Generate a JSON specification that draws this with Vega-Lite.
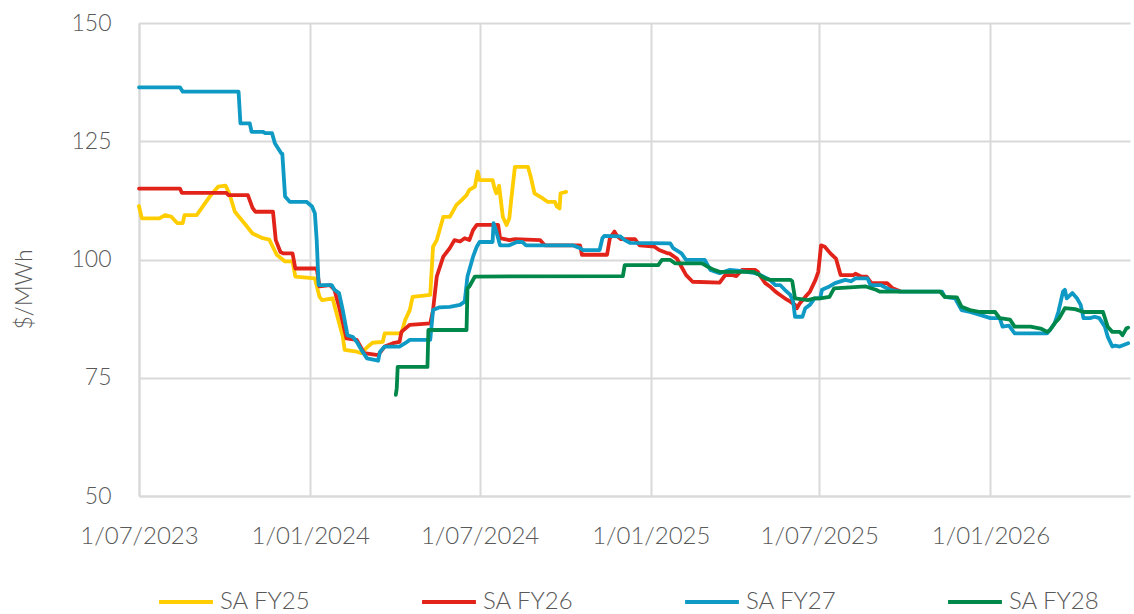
{
  "$schema": "https://vega.github.io/schema/vega-lite/v6.json",
  "width": 991,
  "height": 473,
  "autosize": {"type": "none"},
  "padding": {"left": 139, "top": 23, "right": 4, "bottom": 118},
  "background": "white",
  "config": {"view": {"stroke": null}, "font": "Lato"},
  "data": {"values": [
    {"s":"SA FY25","d":"2023-07-01","v":111.3},
    {"s":"SA FY25","d":"2023-07-04","v":108.7},
    {"s":"SA FY25","d":"2023-07-23","v":108.7},
    {"s":"SA FY25","d":"2023-07-29","v":109.4},
    {"s":"SA FY25","d":"2023-08-05","v":109.0},
    {"s":"SA FY25","d":"2023-08-11","v":107.7},
    {"s":"SA FY25","d":"2023-08-17","v":107.7},
    {"s":"SA FY25","d":"2023-08-19","v":109.4},
    {"s":"SA FY25","d":"2023-09-01","v":109.4},
    {"s":"SA FY25","d":"2023-09-15","v":113.3},
    {"s":"SA FY25","d":"2023-09-24","v":115.4},
    {"s":"SA FY25","d":"2023-10-02","v":115.6},
    {"s":"SA FY25","d":"2023-10-06","v":114.0},
    {"s":"SA FY25","d":"2023-10-12","v":110.1},
    {"s":"SA FY25","d":"2023-10-22","v":107.7},
    {"s":"SA FY25","d":"2023-10-31","v":105.5},
    {"s":"SA FY25","d":"2023-11-11","v":104.5},
    {"s":"SA FY25","d":"2023-11-18","v":104.2},
    {"s":"SA FY25","d":"2023-11-26","v":101.0},
    {"s":"SA FY25","d":"2023-12-05","v":99.6},
    {"s":"SA FY25","d":"2023-12-13","v":99.6},
    {"s":"SA FY25","d":"2023-12-16","v":96.4},
    {"s":"SA FY25","d":"2024-01-06","v":96.0},
    {"s":"SA FY25","d":"2024-01-11","v":92.1},
    {"s":"SA FY25","d":"2024-01-14","v":91.4},
    {"s":"SA FY25","d":"2024-01-25","v":91.8},
    {"s":"SA FY25","d":"2024-02-05","v":83.7},
    {"s":"SA FY25","d":"2024-02-07","v":80.9},
    {"s":"SA FY25","d":"2024-02-20","v":80.5},
    {"s":"SA FY25","d":"2024-02-25","v":80.2},
    {"s":"SA FY25","d":"2024-03-03","v":81.6},
    {"s":"SA FY25","d":"2024-03-08","v":82.4},
    {"s":"SA FY25","d":"2024-03-19","v":82.6},
    {"s":"SA FY25","d":"2024-03-21","v":84.4},
    {"s":"SA FY25","d":"2024-04-08","v":84.4},
    {"s":"SA FY25","d":"2024-04-12","v":87.2},
    {"s":"SA FY25","d":"2024-04-17","v":89.3},
    {"s":"SA FY25","d":"2024-04-20","v":92.1},
    {"s":"SA FY25","d":"2024-05-09","v":92.5},
    {"s":"SA FY25","d":"2024-05-12","v":102.7},
    {"s":"SA FY25","d":"2024-05-16","v":104.1},
    {"s":"SA FY25","d":"2024-05-19","v":106.2},
    {"s":"SA FY25","d":"2024-05-23","v":109.0},
    {"s":"SA FY25","d":"2024-05-30","v":109.0},
    {"s":"SA FY25","d":"2024-06-06","v":111.5},
    {"s":"SA FY25","d":"2024-06-12","v":112.6},
    {"s":"SA FY25","d":"2024-06-17","v":113.6},
    {"s":"SA FY25","d":"2024-06-20","v":114.7},
    {"s":"SA FY25","d":"2024-06-26","v":115.4},
    {"s":"SA FY25","d":"2024-06-29","v":118.6},
    {"s":"SA FY25","d":"2024-07-01","v":116.8},
    {"s":"SA FY25","d":"2024-07-15","v":116.8},
    {"s":"SA FY25","d":"2024-07-17","v":115.1},
    {"s":"SA FY25","d":"2024-07-19","v":114.0},
    {"s":"SA FY25","d":"2024-07-22","v":115.6},
    {"s":"SA FY25","d":"2024-07-26","v":109.0},
    {"s":"SA FY25","d":"2024-07-30","v":107.3},
    {"s":"SA FY25","d":"2024-08-02","v":108.7},
    {"s":"SA FY25","d":"2024-08-04","v":112.6},
    {"s":"SA FY25","d":"2024-08-08","v":119.6},
    {"s":"SA FY25","d":"2024-08-22","v":119.6},
    {"s":"SA FY25","d":"2024-08-25","v":117.5},
    {"s":"SA FY25","d":"2024-08-29","v":114.0},
    {"s":"SA FY25","d":"2024-09-07","v":112.9},
    {"s":"SA FY25","d":"2024-09-12","v":112.2},
    {"s":"SA FY25","d":"2024-09-20","v":112.2},
    {"s":"SA FY25","d":"2024-09-22","v":111.2},
    {"s":"SA FY25","d":"2024-09-25","v":110.8},
    {"s":"SA FY25","d":"2024-09-26","v":114.0},
    {"s":"SA FY25","d":"2024-10-02","v":114.3},

    {"s":"SA FY26","d":"2023-07-01","v":115.0},
    {"s":"SA FY26","d":"2023-08-14","v":115.0},
    {"s":"SA FY26","d":"2023-08-16","v":114.1},
    {"s":"SA FY26","d":"2023-10-03","v":114.1},
    {"s":"SA FY26","d":"2023-10-05","v":113.6},
    {"s":"SA FY26","d":"2023-10-26","v":113.6},
    {"s":"SA FY26","d":"2023-10-31","v":110.9},
    {"s":"SA FY26","d":"2023-11-03","v":110.1},
    {"s":"SA FY26","d":"2023-11-22","v":110.1},
    {"s":"SA FY26","d":"2023-11-25","v":104.1},
    {"s":"SA FY26","d":"2023-11-30","v":101.6},
    {"s":"SA FY26","d":"2023-12-03","v":101.3},
    {"s":"SA FY26","d":"2023-12-13","v":101.3},
    {"s":"SA FY26","d":"2023-12-16","v":98.1},
    {"s":"SA FY26","d":"2024-01-08","v":98.1},
    {"s":"SA FY26","d":"2024-01-11","v":94.3},
    {"s":"SA FY26","d":"2024-01-22","v":94.6},
    {"s":"SA FY26","d":"2024-01-27","v":93.6},
    {"s":"SA FY26","d":"2024-02-01","v":90.0},
    {"s":"SA FY26","d":"2024-02-07","v":85.0},
    {"s":"SA FY26","d":"2024-02-09","v":83.3},
    {"s":"SA FY26","d":"2024-02-20","v":83.0},
    {"s":"SA FY26","d":"2024-02-22","v":82.3},
    {"s":"SA FY26","d":"2024-02-28","v":80.2},
    {"s":"SA FY26","d":"2024-03-14","v":79.8},
    {"s":"SA FY26","d":"2024-03-21","v":81.6},
    {"s":"SA FY26","d":"2024-03-30","v":82.3},
    {"s":"SA FY26","d":"2024-04-06","v":82.6},
    {"s":"SA FY26","d":"2024-04-08","v":84.7},
    {"s":"SA FY26","d":"2024-04-17","v":86.2},
    {"s":"SA FY26","d":"2024-05-09","v":86.5},
    {"s":"SA FY26","d":"2024-05-12","v":89.3},
    {"s":"SA FY26","d":"2024-05-16","v":96.4},
    {"s":"SA FY26","d":"2024-05-23","v":100.6},
    {"s":"SA FY26","d":"2024-05-30","v":102.4},
    {"s":"SA FY26","d":"2024-06-04","v":104.1},
    {"s":"SA FY26","d":"2024-06-10","v":103.8},
    {"s":"SA FY26","d":"2024-06-15","v":104.5},
    {"s":"SA FY26","d":"2024-06-20","v":104.1},
    {"s":"SA FY26","d":"2024-06-24","v":106.2},
    {"s":"SA FY26","d":"2024-06-28","v":107.3},
    {"s":"SA FY26","d":"2024-07-21","v":107.3},
    {"s":"SA FY26","d":"2024-07-23","v":104.5},
    {"s":"SA FY26","d":"2024-08-02","v":104.1},
    {"s":"SA FY26","d":"2024-08-08","v":104.3},
    {"s":"SA FY26","d":"2024-09-04","v":104.1},
    {"s":"SA FY26","d":"2024-09-09","v":103.0},
    {"s":"SA FY26","d":"2024-10-17","v":103.0},
    {"s":"SA FY26","d":"2024-10-19","v":101.0},
    {"s":"SA FY26","d":"2024-11-15","v":101.0},
    {"s":"SA FY26","d":"2024-11-18","v":104.5},
    {"s":"SA FY26","d":"2024-11-23","v":105.9},
    {"s":"SA FY26","d":"2024-11-26","v":104.9},
    {"s":"SA FY26","d":"2024-11-30","v":104.3},
    {"s":"SA FY26","d":"2024-12-15","v":104.3},
    {"s":"SA FY26","d":"2024-12-20","v":103.0},
    {"s":"SA FY26","d":"2025-01-05","v":102.7},
    {"s":"SA FY26","d":"2025-01-10","v":102.0},
    {"s":"SA FY26","d":"2025-01-19","v":101.3},
    {"s":"SA FY26","d":"2025-01-21","v":101.3},
    {"s":"SA FY26","d":"2025-01-29","v":100.2},
    {"s":"SA FY26","d":"2025-02-04","v":98.1},
    {"s":"SA FY26","d":"2025-02-08","v":96.7},
    {"s":"SA FY26","d":"2025-02-15","v":95.3},
    {"s":"SA FY26","d":"2025-03-16","v":95.1},
    {"s":"SA FY26","d":"2025-03-22","v":96.7},
    {"s":"SA FY26","d":"2025-03-30","v":96.7},
    {"s":"SA FY26","d":"2025-04-03","v":96.5},
    {"s":"SA FY26","d":"2025-04-09","v":97.8},
    {"s":"SA FY26","d":"2025-04-23","v":97.8},
    {"s":"SA FY26","d":"2025-04-26","v":97.4},
    {"s":"SA FY26","d":"2025-04-28","v":96.7},
    {"s":"SA FY26","d":"2025-05-04","v":95.0},
    {"s":"SA FY26","d":"2025-05-09","v":94.3},
    {"s":"SA FY26","d":"2025-05-15","v":93.2},
    {"s":"SA FY26","d":"2025-05-20","v":92.5},
    {"s":"SA FY26","d":"2025-05-25","v":91.8},
    {"s":"SA FY26","d":"2025-05-31","v":91.1},
    {"s":"SA FY26","d":"2025-06-05","v":90.4},
    {"s":"SA FY26","d":"2025-06-07","v":89.7},
    {"s":"SA FY26","d":"2025-06-10","v":90.7},
    {"s":"SA FY26","d":"2025-06-16","v":92.1},
    {"s":"SA FY26","d":"2025-06-21","v":93.2},
    {"s":"SA FY26","d":"2025-06-27","v":95.7},
    {"s":"SA FY26","d":"2025-06-30","v":97.4},
    {"s":"SA FY26","d":"2025-07-03","v":103.0},
    {"s":"SA FY26","d":"2025-07-07","v":102.7},
    {"s":"SA FY26","d":"2025-07-13","v":101.3},
    {"s":"SA FY26","d":"2025-07-19","v":100.2},
    {"s":"SA FY26","d":"2025-07-24","v":96.7},
    {"s":"SA FY26","d":"2025-08-07","v":96.7},
    {"s":"SA FY26","d":"2025-08-09","v":97.0},
    {"s":"SA FY26","d":"2025-08-15","v":96.4},
    {"s":"SA FY26","d":"2025-08-21","v":96.4},
    {"s":"SA FY26","d":"2025-08-26","v":95.0},
    {"s":"SA FY26","d":"2025-09-12","v":95.0},
    {"s":"SA FY26","d":"2025-09-18","v":93.9},
    {"s":"SA FY26","d":"2025-09-26","v":93.3},

    {"s":"SA FY27","d":"2023-07-01","v":136.4},
    {"s":"SA FY27","d":"2023-08-14","v":136.4},
    {"s":"SA FY27","d":"2023-08-17","v":135.5},
    {"s":"SA FY27","d":"2023-10-16","v":135.5},
    {"s":"SA FY27","d":"2023-10-18","v":128.8},
    {"s":"SA FY27","d":"2023-10-28","v":128.8},
    {"s":"SA FY27","d":"2023-10-30","v":127.0},
    {"s":"SA FY27","d":"2023-11-11","v":127.0},
    {"s":"SA FY27","d":"2023-11-14","v":126.7},
    {"s":"SA FY27","d":"2023-11-21","v":126.7},
    {"s":"SA FY27","d":"2023-11-24","v":124.6},
    {"s":"SA FY27","d":"2023-12-01","v":122.4},
    {"s":"SA FY27","d":"2023-12-02","v":122.4},
    {"s":"SA FY27","d":"2023-12-05","v":113.3},
    {"s":"SA FY27","d":"2023-12-10","v":112.2},
    {"s":"SA FY27","d":"2023-12-28","v":112.2},
    {"s":"SA FY27","d":"2024-01-03","v":111.2},
    {"s":"SA FY27","d":"2024-01-06","v":109.8},
    {"s":"SA FY27","d":"2024-01-08","v":104.0},
    {"s":"SA FY27","d":"2024-01-10","v":94.6},
    {"s":"SA FY27","d":"2024-01-24","v":94.6},
    {"s":"SA FY27","d":"2024-01-27","v":93.6},
    {"s":"SA FY27","d":"2024-02-01","v":92.9},
    {"s":"SA FY27","d":"2024-02-05","v":89.3},
    {"s":"SA FY27","d":"2024-02-10","v":84.0},
    {"s":"SA FY27","d":"2024-02-16","v":83.6},
    {"s":"SA FY27","d":"2024-02-20","v":82.6},
    {"s":"SA FY27","d":"2024-02-25","v":80.9},
    {"s":"SA FY27","d":"2024-03-02","v":79.1},
    {"s":"SA FY27","d":"2024-03-14","v":78.6},
    {"s":"SA FY27","d":"2024-03-16","v":80.5},
    {"s":"SA FY27","d":"2024-03-21","v":81.6},
    {"s":"SA FY27","d":"2024-04-06","v":81.6},
    {"s":"SA FY27","d":"2024-04-12","v":82.3},
    {"s":"SA FY27","d":"2024-04-17","v":83.0},
    {"s":"SA FY27","d":"2024-05-09","v":83.0},
    {"s":"SA FY27","d":"2024-05-12","v":89.3},
    {"s":"SA FY27","d":"2024-05-19","v":89.9},
    {"s":"SA FY27","d":"2024-05-30","v":90.0},
    {"s":"SA FY27","d":"2024-06-10","v":90.4},
    {"s":"SA FY27","d":"2024-06-15","v":91.1},
    {"s":"SA FY27","d":"2024-06-18","v":96.4},
    {"s":"SA FY27","d":"2024-06-24","v":100.6},
    {"s":"SA FY27","d":"2024-06-28","v":102.7},
    {"s":"SA FY27","d":"2024-07-01","v":103.7},
    {"s":"SA FY27","d":"2024-07-15","v":103.7},
    {"s":"SA FY27","d":"2024-07-16","v":107.7},
    {"s":"SA FY27","d":"2024-07-19","v":105.9},
    {"s":"SA FY27","d":"2024-07-23","v":103.0},
    {"s":"SA FY27","d":"2024-08-02","v":103.0},
    {"s":"SA FY27","d":"2024-08-10","v":103.7},
    {"s":"SA FY27","d":"2024-08-16","v":103.7},
    {"s":"SA FY27","d":"2024-08-20","v":103.0},
    {"s":"SA FY27","d":"2024-10-09","v":103.0},
    {"s":"SA FY27","d":"2024-10-17","v":102.4},
    {"s":"SA FY27","d":"2024-10-20","v":102.0},
    {"s":"SA FY27","d":"2024-11-07","v":102.0},
    {"s":"SA FY27","d":"2024-11-10","v":104.5},
    {"s":"SA FY27","d":"2024-11-12","v":105.0},
    {"s":"SA FY27","d":"2024-11-29","v":104.9},
    {"s":"SA FY27","d":"2024-12-04","v":104.1},
    {"s":"SA FY27","d":"2024-12-10","v":103.5},
    {"s":"SA FY27","d":"2025-01-22","v":103.4},
    {"s":"SA FY27","d":"2025-01-25","v":102.4},
    {"s":"SA FY27","d":"2025-02-03","v":101.3},
    {"s":"SA FY27","d":"2025-02-08","v":99.9},
    {"s":"SA FY27","d":"2025-02-28","v":99.9},
    {"s":"SA FY27","d":"2025-03-06","v":97.8},
    {"s":"SA FY27","d":"2025-03-16","v":97.1},
    {"s":"SA FY27","d":"2025-03-27","v":97.8},
    {"s":"SA FY27","d":"2025-04-07","v":97.6},
    {"s":"SA FY27","d":"2025-04-23","v":97.1},
    {"s":"SA FY27","d":"2025-04-28","v":96.8},
    {"s":"SA FY27","d":"2025-05-09","v":95.7},
    {"s":"SA FY27","d":"2025-05-15","v":94.6},
    {"s":"SA FY27","d":"2025-05-20","v":94.6},
    {"s":"SA FY27","d":"2025-05-25","v":93.6},
    {"s":"SA FY27","d":"2025-05-31","v":92.5},
    {"s":"SA FY27","d":"2025-06-03","v":91.1},
    {"s":"SA FY27","d":"2025-06-05","v":87.9},
    {"s":"SA FY27","d":"2025-06-13","v":87.9},
    {"s":"SA FY27","d":"2025-06-16","v":89.7},
    {"s":"SA FY27","d":"2025-06-21","v":90.4},
    {"s":"SA FY27","d":"2025-06-26","v":91.8},
    {"s":"SA FY27","d":"2025-07-02","v":91.8},
    {"s":"SA FY27","d":"2025-07-04","v":93.6},
    {"s":"SA FY27","d":"2025-07-12","v":94.3},
    {"s":"SA FY27","d":"2025-07-18","v":95.0},
    {"s":"SA FY27","d":"2025-07-29","v":95.7},
    {"s":"SA FY27","d":"2025-08-04","v":95.4},
    {"s":"SA FY27","d":"2025-08-09","v":96.0},
    {"s":"SA FY27","d":"2025-08-22","v":96.0},
    {"s":"SA FY27","d":"2025-08-25","v":94.6},
    {"s":"SA FY27","d":"2025-09-05","v":94.6},
    {"s":"SA FY27","d":"2025-09-15","v":93.6},
    {"s":"SA FY27","d":"2025-09-26","v":93.2},
    {"s":"SA FY27","d":"2025-11-10","v":93.2},
    {"s":"SA FY27","d":"2025-11-13","v":92.1},
    {"s":"SA FY27","d":"2025-11-24","v":91.8},
    {"s":"SA FY27","d":"2025-12-01","v":89.3},
    {"s":"SA FY27","d":"2025-12-10","v":88.9},
    {"s":"SA FY27","d":"2025-12-21","v":88.3},
    {"s":"SA FY27","d":"2026-01-01","v":87.6},
    {"s":"SA FY27","d":"2026-01-11","v":87.6},
    {"s":"SA FY27","d":"2026-01-14","v":85.8},
    {"s":"SA FY27","d":"2026-01-21","v":86.0},
    {"s":"SA FY27","d":"2026-01-27","v":84.4},
    {"s":"SA FY27","d":"2026-03-03","v":84.4},
    {"s":"SA FY27","d":"2026-03-06","v":85.1},
    {"s":"SA FY27","d":"2026-03-11","v":86.5},
    {"s":"SA FY27","d":"2026-03-15","v":88.9},
    {"s":"SA FY27","d":"2026-03-20","v":93.2},
    {"s":"SA FY27","d":"2026-03-22","v":93.6},
    {"s":"SA FY27","d":"2026-03-24","v":91.8},
    {"s":"SA FY27","d":"2026-03-30","v":92.9},
    {"s":"SA FY27","d":"2026-04-04","v":91.8},
    {"s":"SA FY27","d":"2026-04-08","v":90.4},
    {"s":"SA FY27","d":"2026-04-11","v":87.6},
    {"s":"SA FY27","d":"2026-04-18","v":87.6},
    {"s":"SA FY27","d":"2026-04-23","v":87.9},
    {"s":"SA FY27","d":"2026-04-28","v":87.6},
    {"s":"SA FY27","d":"2026-05-04","v":85.8},
    {"s":"SA FY27","d":"2026-05-07","v":83.7},
    {"s":"SA FY27","d":"2026-05-12","v":81.6},
    {"s":"SA FY27","d":"2026-05-15","v":81.8},
    {"s":"SA FY27","d":"2026-05-20","v":81.6},
    {"s":"SA FY27","d":"2026-05-29","v":82.3},

    {"s":"SA FY28","d":"2024-04-02","v":71.4},
    {"s":"SA FY28","d":"2024-04-03","v":72.8},
    {"s":"SA FY28","d":"2024-04-04","v":77.3},
    {"s":"SA FY28","d":"2024-05-06","v":77.3},
    {"s":"SA FY28","d":"2024-05-07","v":85.1},
    {"s":"SA FY28","d":"2024-06-17","v":85.1},
    {"s":"SA FY28","d":"2024-06-18","v":93.9},
    {"s":"SA FY28","d":"2024-06-20","v":94.3},
    {"s":"SA FY28","d":"2024-06-26","v":96.4},
    {"s":"SA FY28","d":"2024-12-02","v":96.5},
    {"s":"SA FY28","d":"2024-12-04","v":98.8},
    {"s":"SA FY28","d":"2025-01-09","v":98.8},
    {"s":"SA FY28","d":"2025-01-13","v":99.9},
    {"s":"SA FY28","d":"2025-01-22","v":99.9},
    {"s":"SA FY28","d":"2025-01-27","v":99.2},
    {"s":"SA FY28","d":"2025-02-25","v":99.2},
    {"s":"SA FY28","d":"2025-03-03","v":98.5},
    {"s":"SA FY28","d":"2025-03-10","v":97.8},
    {"s":"SA FY28","d":"2025-03-16","v":97.4},
    {"s":"SA FY28","d":"2025-04-21","v":97.4},
    {"s":"SA FY28","d":"2025-04-28","v":96.7},
    {"s":"SA FY28","d":"2025-05-04","v":96.0},
    {"s":"SA FY28","d":"2025-05-09","v":95.7},
    {"s":"SA FY28","d":"2025-05-31","v":95.7},
    {"s":"SA FY28","d":"2025-06-02","v":95.4},
    {"s":"SA FY28","d":"2025-06-05","v":91.8},
    {"s":"SA FY28","d":"2025-06-19","v":91.4},
    {"s":"SA FY28","d":"2025-06-26","v":91.8},
    {"s":"SA FY28","d":"2025-07-02","v":91.8},
    {"s":"SA FY28","d":"2025-07-12","v":92.1},
    {"s":"SA FY28","d":"2025-07-17","v":93.9},
    {"s":"SA FY28","d":"2025-08-20","v":94.3},
    {"s":"SA FY28","d":"2025-08-31","v":93.6},
    {"s":"SA FY28","d":"2025-09-04","v":93.2},
    {"s":"SA FY28","d":"2025-11-08","v":93.2},
    {"s":"SA FY28","d":"2025-11-13","v":92.1},
    {"s":"SA FY28","d":"2025-11-26","v":92.0},
    {"s":"SA FY28","d":"2025-12-01","v":90.0},
    {"s":"SA FY28","d":"2025-12-10","v":89.3},
    {"s":"SA FY28","d":"2025-12-21","v":88.9},
    {"s":"SA FY28","d":"2026-01-06","v":88.9},
    {"s":"SA FY28","d":"2026-01-11","v":87.6},
    {"s":"SA FY28","d":"2026-01-22","v":87.3},
    {"s":"SA FY28","d":"2026-01-27","v":85.8},
    {"s":"SA FY28","d":"2026-02-13","v":85.8},
    {"s":"SA FY28","d":"2026-02-24","v":85.4},
    {"s":"SA FY28","d":"2026-03-03","v":84.7},
    {"s":"SA FY28","d":"2026-03-06","v":85.1},
    {"s":"SA FY28","d":"2026-03-11","v":86.5},
    {"s":"SA FY28","d":"2026-03-16","v":87.6},
    {"s":"SA FY28","d":"2026-03-22","v":89.7},
    {"s":"SA FY28","d":"2026-04-02","v":89.5},
    {"s":"SA FY28","d":"2026-04-11","v":88.9},
    {"s":"SA FY28","d":"2026-05-02","v":88.9},
    {"s":"SA FY28","d":"2026-05-07","v":85.8},
    {"s":"SA FY28","d":"2026-05-12","v":84.7},
    {"s":"SA FY28","d":"2026-05-20","v":84.7},
    {"s":"SA FY28","d":"2026-05-23","v":84.0},
    {"s":"SA FY28","d":"2026-05-27","v":85.4},
    {"s":"SA FY28","d":"2026-05-29","v":85.6}
  ]},
  "mark": {"type": "line", "strokeWidth": 3.8, "strokeJoin": "round", "strokeCap": "round"},
  "encoding": {
    "x": {
      "field": "d",
      "type": "temporal",
      "scale": {
        "type": "utc",
        "domain": [
          {"year": 2023, "month": 7, "date": 1, "utc": true},
          {"year": 2026, "month": 5, "date": 31, "utc": true}
        ]
      },
      "axis": {
        "values": [
          {"year": 2023, "month": 7, "date": 1, "utc": true},
          {"year": 2024, "month": 1, "date": 1, "utc": true},
          {"year": 2024, "month": 7, "date": 1, "utc": true},
          {"year": 2025, "month": 1, "date": 1, "utc": true},
          {"year": 2025, "month": 7, "date": 1, "utc": true},
          {"year": 2026, "month": 1, "date": 1, "utc": true}
        ],
        "format": "%-d/%m/%Y",
        "title": null,
        "labelFont": "Lato",
        "labelFontSize": 24,
        "labelFontWeight": 300,
        "labelColor": "#595959",
        "labelPadding": 28,
        "labelOverlap": false,
        "labelFlush": false,
        "ticks": false,
        "grid": true,
        "gridColor": "#d9d9d9",
        "gridWidth": 2,
        "domain": true,
        "domainColor": "#d9d9d9",
        "domainWidth": 2
      }
    },
    "y": {
      "field": "v",
      "type": "quantitative",
      "scale": {"domain": [50, 150], "nice": false, "zero": false},
      "axis": {
        "values": [50, 75, 100, 125, 150],
        "title": "$/MWh",
        "titleFont": "Lato",
        "titleFontSize": 23,
        "titleFontWeight": 300,
        "titleColor": "#595959",
        "titlePadding": 34,
        "titleY": 266,
        "labelFont": "Lato",
        "labelFontSize": 23,
        "labelFontWeight": 300,
        "labelColor": "#595959",
        "labelPadding": 28,
        "ticks": false,
        "grid": true,
        "gridColor": "#d9d9d9",
        "gridWidth": 2,
        "domain": true,
        "domainColor": "#d9d9d9",
        "domainWidth": 2
      }
    },
    "color": {
      "field": "s",
      "type": "nominal",
      "scale": {
        "domain": ["SA FY25", "SA FY26", "SA FY27", "SA FY28"],
        "range": ["#FFCD00", "#E2231A", "#0E9AC4", "#00874A"]
      },
      "legend": {
        "title": null,
        "orient": "none",
        "legendX": 18,
        "legendY": 550,
        "direction": "horizontal",
        "columns": 4,
        "columnPadding": 103,
        "symbolType": "stroke",
        "symbolSize": 2900,
        "symbolStrokeWidth": 4,
        "labelFont": "Lato",
        "labelFontSize": 24,
        "labelFontWeight": 300,
        "labelColor": "#595959",
        "labelOffset": 5
      }
    }
  }
}
